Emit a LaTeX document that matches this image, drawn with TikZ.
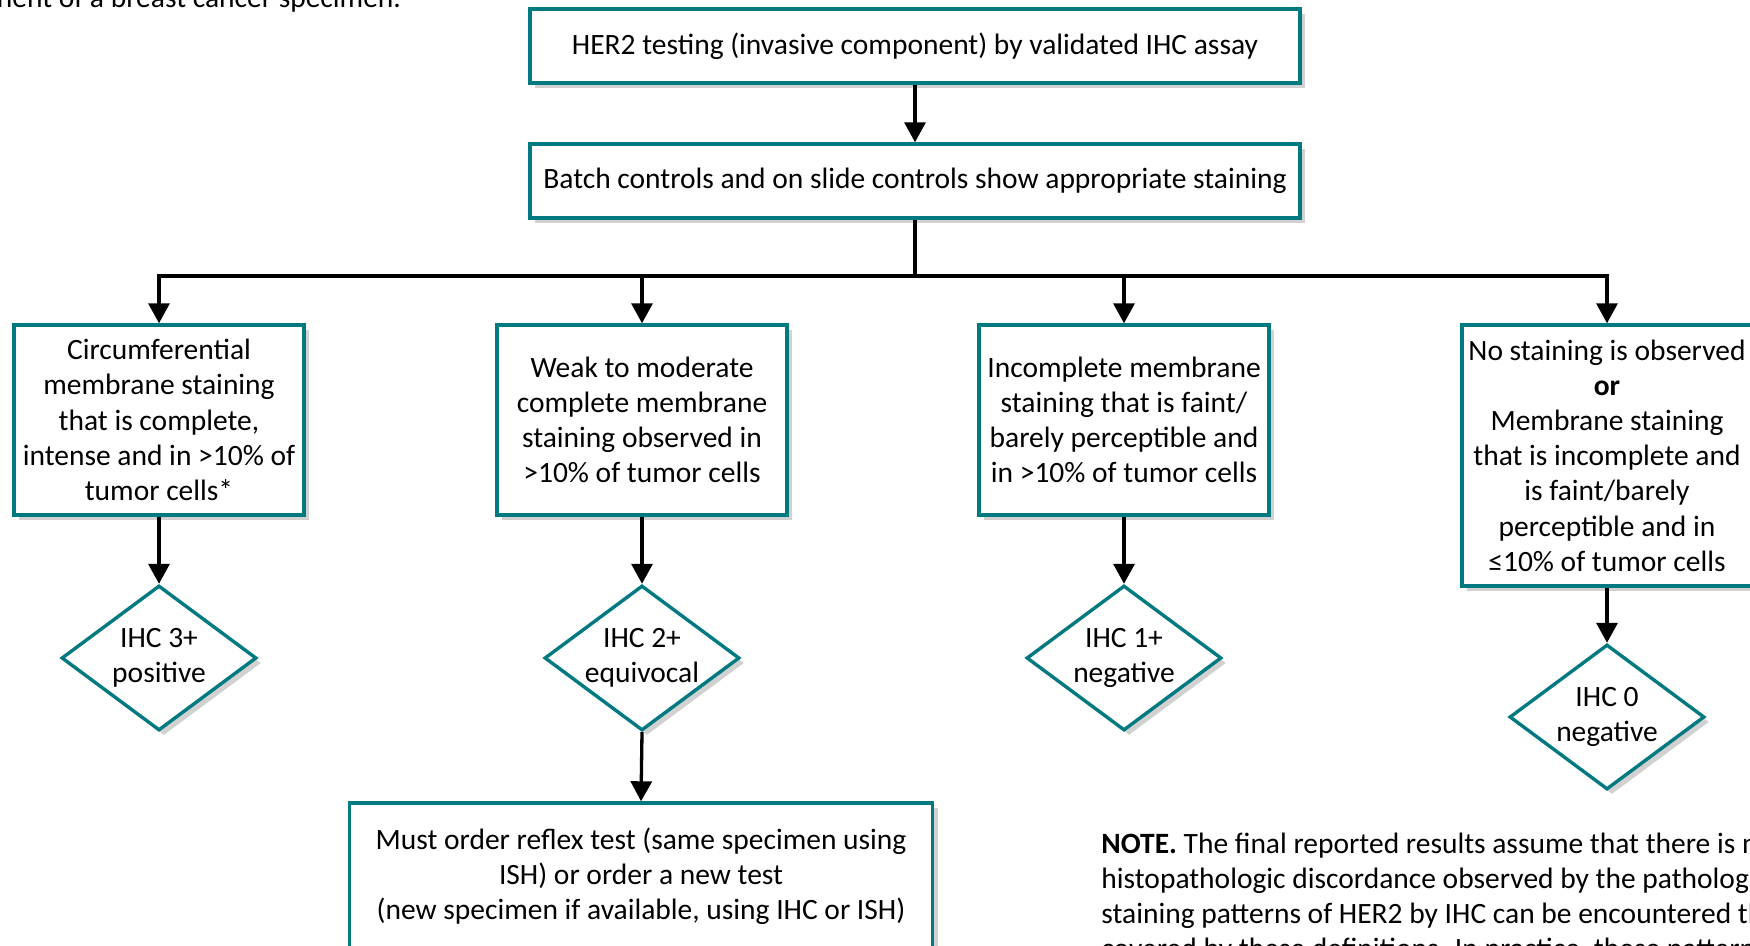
\documentclass[tikz,border=0pt]{standalone}
\usepackage{fontspec}
\setmainfont{Carlito}
\usetikzlibrary{arrows.meta,shapes.geometric,shadows}
\definecolor{tealb}{RGB}{0,122,128}
\newcommand\myfs{\fontsize{14.75}{17.6}\selectfont}
\begin{document}
\begin{tikzpicture}[x=0.5pt,y=-0.5pt,
  shad/.style={drop shadow={shadow xshift=2.5pt,shadow yshift=-2.5pt,opacity=0.3,fill=black!60}},
  box/.style={draw=tealb, line width=1.7pt, fill=white, align=center, inner sep=0pt, font=\myfs, shad},
  diam/.style={shape=diamond, draw=tealb, line width=1.7pt, fill=white, minimum width=97.5pt, minimum height=72.5pt, inner sep=0pt, shad},
  dlab/.style={font=\myfs, align=center},
  arr/.style={line width=1.65pt, -{Triangle[length=10pt,width=10.5pt]}},
  ln/.style={line width=1.65pt}
]
\useasboundingbox (0,0) rectangle (1750,946);

\node[anchor=base east, font=\myfs] (cap) at (408,8) {component of a breast cancer specimen.};

\node[box, minimum width=385pt, minimum height=37pt] (top) at (915,46) {HER2 testing (invasive component) by validated IHC assay};
\node[box, minimum width=385pt, minimum height=37pt] (ctrl) at (915,181) {Batch controls and on slide controls show appropriate staining};

\node[box, minimum width=145pt, minimum height=95pt] (c1) at (159,420) {Circumferential\\membrane staining\\that is complete,\\intense and in >10\% of\\tumor cells*};
\node[box, minimum width=145pt, minimum height=95pt] (c2) at (642,420) {Weak to moderate\\complete membrane\\staining observed in\\>10\% of tumor cells};
\node[box, minimum width=145pt, minimum height=95pt] (c3) at (1124,420) {Incomplete membrane\\staining that is faint/\\barely perceptible and\\in >10\% of tumor cells};
\node[box, minimum width=145pt, minimum height=130.5pt] (c4) at (1607,455.5) {No staining is observed\\\textbf{or}\\Membrane staining\\that is incomplete and\\is faint/barely\\perceptible and in\\≤10\% of tumor cells};

\node[diam, label={[dlab]center:IHC 3+\\positive}] (d1) at (159,658) {};
\node[diam, label={[dlab]center:IHC 2+\\equivocal}] (d2) at (642,658) {};
\node[diam, label={[dlab]center:IHC 1+\\negative}] (d3) at (1124,658) {};
\node[diam, label={[dlab]center:IHC 0\\negative}] (d4) at (1607,717) {};

\node[box, minimum width=291.5pt, minimum height=73pt] (rf) at (641,876) {Must order reflex test (same specimen using\\ISH) or order a new test\\(new specimen if available, using IHC or ISH)};

\coordinate (split) at (915,276);
\draw[arr] (top) -- (ctrl);
\draw[ln] (ctrl.south) -- (split);
\draw[arr] (split) -| (c1.north);
\draw[arr] (split) -| (c2.north);
\draw[arr] (split) -| (c3.north);
\draw[arr] (split) -| (c4.north);
\draw[arr] (c1.south) -- (d1.north);
\draw[arr] (c2.south) -- (d2.north);
\draw[arr] (c3.south) -- (d3.north);
\draw[arr] (c4.south) -- (d4.north);
\draw[arr] (d2.south) -- (rf.north);

\node[anchor=base west, font=\myfs, inner sep=0pt] (n1) at (1101,853) {\textbf{NOTE.} The final reported results assume that there is no};
\node[anchor=base west, font=\myfs, inner sep=0pt] (n2) at (1101,888) {histopathologic discordance observed by the pathologist.};
\node[anchor=base west, font=\myfs, inner sep=0pt] (n3) at (1101,923) {staining patterns of HER2 by IHC can be encountered that};
\node[anchor=base west, font=\myfs, inner sep=0pt] (n4) at (1101,958) {covered by these definitions. In practice, these patterns};
\end{tikzpicture}
\end{document}
